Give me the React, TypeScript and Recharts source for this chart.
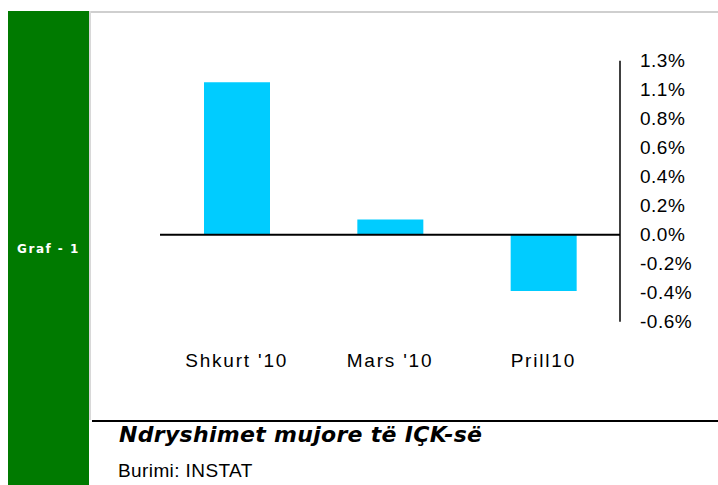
import { BarChart, Bar, XAxis, YAxis, ReferenceLine } from 'recharts'

// muajt dhe ndryshimi mujor i IÇK (%)
const months = ["Shkurt '10", "Mars '10", 'Prill10']
const changes = [1.11, 0.11, -0.41]
const yTicks = [-0.633, -0.422, -0.211, 0, 0.211, 0.422, 0.633, 0.844, 1.055, 1.266]

const title = 'Ndryshimet mujore të IÇK-së'
const source = 'Burimi: INSTAT'
const sideLabel = 'Graf - 1'

const data = months.map((m, i) => ({ month: m, value: changes[i] }))

const sans = '"Liberation Sans", Arial, sans-serif'

export default function App() {
  return (
    <div style={{ position: 'absolute', left: 0, top: 0, width: 718, height: 485, background: '#fff', overflow: 'hidden', fontFamily: sans }}>
      {/* green side band */}
      <div style={{ position: 'absolute', left: 8, top: 11, width: 81, height: 474, background: '#007a00' }} />
      <div style={{ position: 'absolute', left: 8, top: 242, width: 81, textAlign: 'center', color: '#fff', fontFamily: '"DejaVu Sans", sans-serif', fontWeight: 'bold', fontSize: 12, letterSpacing: 1.5, lineHeight: '14px' }}>
        {sideLabel}
      </div>
      {/* panel borders */}
      <div style={{ position: 'absolute', left: 89, top: 11, width: 629, height: 2, background: '#cfcfcf' }} />
      <div style={{ position: 'absolute', left: 89, top: 11, width: 2, height: 409, background: '#d8d8d8' }} />
      <div style={{ position: 'absolute', left: 92, top: 420, width: 626, height: 2, background: '#000' }} />

      <div style={{ position: 'absolute', left: 90, top: 12 }}>
        <BarChart width={628} height={400} data={data} margin={{ top: 48.7, right: 0, left: 70, bottom: 0 }}>
          <XAxis
            dataKey="month"
            axisLine={false}
            tickLine={false}
            tickSize={0}
            tickMargin={32}
            interval={0}
            height={90.3}
            tick={{ fontSize: 19, fill: '#000', letterSpacing: 1.8, fontFamily: sans }}
          />
          <YAxis
            orientation="right"
            domain={[-0.633, 1.266]}
            ticks={yTicks}
            interval={0}
            width={98}
            tickLine={false}
            tickSize={0}
            tickMargin={20}
            axisLine={{ stroke: '#000', strokeWidth: 1.5 }}
            tickFormatter={(v: number) => v.toFixed(1) + '%'}
            tick={{ fontSize: 19, fill: '#000', letterSpacing: 0.5, fontFamily: sans }}
          />
          <Bar dataKey="value" fill="#00ccff" barSize={66} isAnimationActive={false} />
          <ReferenceLine y={0} stroke="#000" strokeWidth={2} />
        </BarChart>
      </div>

      <div style={{ position: 'absolute', left: 119, top: 424, fontFamily: '"DejaVu Sans", sans-serif', fontWeight: 'bold', fontStyle: 'italic', fontSize: 22, letterSpacing: 0.3, lineHeight: '22px', color: '#000', whiteSpace: 'nowrap' }}>
        {title}
      </div>
      <div style={{ position: 'absolute', left: 118, top: 461, fontSize: 19, letterSpacing: 0.4, lineHeight: '19px', color: '#000', whiteSpace: 'nowrap' }}>
        {source}
      </div>
    </div>
  )
}
